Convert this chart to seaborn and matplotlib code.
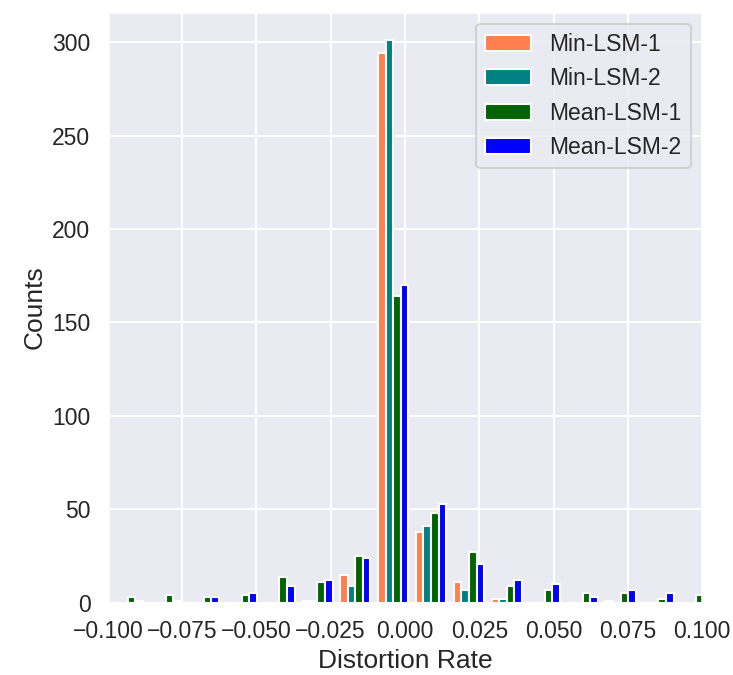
import numpy as np
import matplotlib
matplotlib.use("Agg")
import matplotlib.pyplot as plt
import seaborn as sns

# ---- data ----
series_labels = ["Min-LSM-1", "Min-LSM-2", "Mean-LSM-1", "Mean-LSM-2"]
series_colors = ["coral", "teal", "darkgreen", "blue"]

bin_edges = np.linspace(-0.0996, 0.1044, 17)

min_lsm_1 = [0, 0, 0, 0, 0, 1, 15, 294, 38, 11, 2, 0, 0, 1, 0, 0]
min_lsm_2 = [0, 0, 0, 0, 0, 1, 9, 301, 41, 7, 2, 0, 0, 0, 0, 0]
mean_lsm_1 = [3, 4, 3, 4, 14, 11, 25, 164, 48, 27, 9, 7, 5, 5, 2, 4]
mean_lsm_2 = [1, 1, 3, 5, 9, 12, 24, 170, 53, 21, 12, 10, 3, 7, 5, 0]

x_ticks = [-0.100, -0.075, -0.050, -0.025, 0.000, 0.025, 0.050, 0.075, 0.100]

sns.set_theme(context="talk", style="darkgrid")
plt.rcParams["font.family"] = ["Liberation Sans", "DejaVu Sans"]

fig = plt.figure(figsize=(7.33, 6.75), dpi=100)
ax = fig.add_axes([0.147, 0.107, 0.811, 0.875])

centers = (bin_edges[:-1] + bin_edges[1:]) / 2
all_counts = [min_lsm_1, min_lsm_2, mean_lsm_1, mean_lsm_2]
ax.hist([centers] * 4, bins=bin_edges, weights=all_counts,
        color=series_colors, label=series_labels)

ax.set_xlim(-0.1, 0.1)
ax.set_xticks(x_ticks)
ax.set_xticklabels([f"{t:.3f}".replace("-", "\u2212") for t in x_ticks])
ax.set_xlabel("Distortion Rate", fontsize=19)
ax.set_ylabel("Counts", fontsize=19)
ax.legend(loc="upper right")

fig.savefig("out.png", dpi=100)
